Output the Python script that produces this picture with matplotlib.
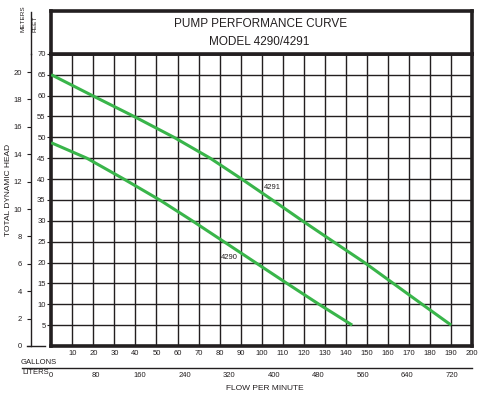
import matplotlib
matplotlib.use("Agg")
import matplotlib.pyplot as plt
from matplotlib import font_manager
from matplotlib.lines import Line2D

# ---- data ----
gal_4291 = [0, 19.5, 39.3, 58.3, 75.5, 90.5, 105, 119.3, 134, 148.8, 162.5, 176.2, 190]
ft_4291 = [65, 60, 55, 50, 45, 40, 35, 30, 25, 20, 15, 10, 5]
gal_4290 = [0, 16.9, 34.5, 51.5, 67, 82, 97, 112, 127.2, 143]
ft_4290 = [48.7, 45, 40, 35, 30, 25, 20, 15, 10, 5]
gallon_ticks = list(range(10, 201, 10))
feet_ticks = list(range(5, 71, 5))
meter_ticks = list(range(0, 21, 2))
liter_ticks = list(range(0, 721, 80))
title_lines = ["PUMP PERFORMANCE CURVE", "MODEL 4290/4291"]
series_names = ["4291", "4290"]
label_pos = {"4291": (105, 38), "4290": (84.4, 21.3)}

names = {f.name for f in font_manager.fontManager.ttflist}
narrow = "Liberation Sans Narrow" if "Liberation Sans Narrow" in names else "Liberation Sans"
plt.rcParams["font.family"] = [narrow, "DejaVu Sans"]

W, H = 483, 396
fig = plt.figure(figsize=(W / 100, H / 100), dpi=100)

def fx(px):
    return px / W

def fy(py):
    return 1 - py / H

x0, x1 = 51.2, 472.2
ytop, ybot, ttop = 53.8, 346.0, 11.0
dark = "#231f20"
green = "#39b54a"

ax = fig.add_axes([fx(x0), fy(ybot), fx(x1) - fx(x0), fy(ytop) - fy(ybot)])
ax.set_xlim(0, 200)
ax.set_ylim(0, 70)
ax.set_xticks(gallon_ticks)
ax.set_xticklabels([str(v) for v in gallon_ticks])
ax.set_yticks(feet_ticks)
ax.set_yticklabels([str(v) for v in feet_ticks])
ax.tick_params(axis="x", length=0, pad=3, labelsize=5.5, colors=dark)
ax.tick_params(axis="y", length=3, width=0.8, pad=1, labelsize=5.5, colors=dark)
ax.grid(True, color=dark, lw=1.0)
ax.set_axisbelow(True)
for s in ax.spines.values():
    s.set_linewidth(2.6)
    s.set_color(dark)

ax.plot(gal_4291, ft_4291, color=green, lw=2.2, solid_capstyle="butt", zorder=3)
ax.plot(gal_4290, ft_4290, color=green, lw=2.2, solid_capstyle="butt", zorder=3)
for n in series_names:
    gx, gy = label_pos[n]
    ax.text(gx, gy, n, fontsize=5.5, ha="center", va="center", color=dark, zorder=4)

# liters secondary axis
sec = ax.secondary_xaxis((ybot - 368) / (ybot - ytop),
                         functions=(lambda g: g * 3.785411784, lambda l: l / 3.785411784))
sec.set_xticks(liter_ticks)
sec.set_xticklabels([str(v) for v in liter_ticks])
sec.tick_params(length=0, pad=3, labelsize=5.5, colors=dark)
sec.spines["bottom"].set_visible(False)
fig.add_artist(Line2D([fx(22), fx(x1)], [fy(368), fy(368)], color=dark, lw=1.0))

# title box
tax = fig.add_axes([fx(x0), fy(ytop), fx(x1) - fx(x0), fy(ttop) - fy(ytop)])
tax.set_xticks([])
tax.set_yticks([])
for s in tax.spines.values():
    s.set_linewidth(2.6)
    s.set_color(dark)
fig.text(fx(261), fy(24), title_lines[0], fontsize=8.5, ha="center", va="center",
         color=dark, family=["Liberation Sans", "DejaVu Sans"])
fig.text(fx(259), fy(42), title_lines[1], fontsize=8.5, ha="center", va="center",
         color=dark, family=["Liberation Sans", "DejaVu Sans"])

# meters axis
mx = 30.5
max_ = fig.add_axes([fx(mx), fy(ybot), 0.0005, fy(ytop) - fy(ybot)])
max_.set_ylim(0, 70 * 0.3048)
max_.set_xticks([])
max_.set_yticks(meter_ticks)
max_.set_yticklabels([str(v) for v in meter_ticks])
max_.tick_params(axis="y", length=3, width=0.8, pad=3, labelsize=5.5, colors=dark)
for k in ["top", "right", "bottom"]:
    max_.spines[k].set_visible(False)
max_.spines["left"].set_linewidth(1.0)
max_.spines["left"].set_color(dark)
max_.patch.set_visible(False)
fig.add_artist(Line2D([fx(mx), fx(mx)], [fy(ytop), fy(12)], color=dark, lw=1.0))
fig.add_artist(Line2D([fx(27), fx(45)], [fy(ybot), fy(ybot)], color=dark, lw=1.0))

fig.text(fx(23), fy(32), "METERS", rotation=90, fontsize=4.6, ha="center", va="bottom", color=dark)
fig.text(fx(35), fy(32), "FEET", rotation=90, fontsize=4.6, ha="center", va="bottom", color=dark)
fig.text(fx(9), fy(190), "TOTAL DYNAMIC HEAD", rotation=90, fontsize=6, ha="center", va="center", color=dark)
fig.text(fx(21), fy(362), "GALLONS", fontsize=5.5, ha="left", va="center", color=dark)
fig.text(fx(22), fy(373), "LITERS", fontsize=5.5, ha="left", va="center", color=dark)
fig.text(fx(265), fy(388), "FLOW PER MINUTE", fontsize=6, ha="center", va="center", color=dark)

fig.savefig("out.png", dpi=100, facecolor="white")
